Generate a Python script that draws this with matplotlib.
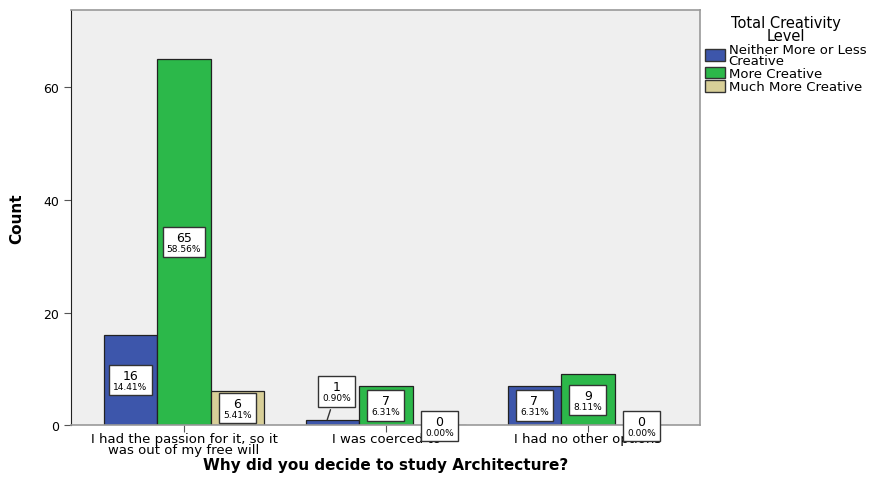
import numpy as np
import matplotlib.pyplot as plt
from matplotlib.offsetbox import TextArea, VPacker, AnnotationBbox
from matplotlib.patches import Patch

# Data
categories = ['I had the passion for it, so it\nwas out of my free will',
              'I was coerced to', 'I had no other options']
levels = ['Neither More or Less\nCreative', 'More Creative', 'Much More Creative']
counts = {
    'Neither More or Less\nCreative': [16, 1, 7],
    'More Creative': [65, 7, 9],
    'Much More Creative': [6, 0, 0],
}
percents = {
    'Neither More or Less\nCreative': ['14.41%', '0.90%', '6.31%'],
    'More Creative': ['58.56%', '6.31%', '8.11%'],
    'Much More Creative': ['5.41%', '0.00%', '0.00%'],
}
colors = ['#3D56AB', '#2CB84A', '#D8CF98']

plt.rcParams['font.family'] = 'DejaVu Sans'

fig = plt.figure(figsize=(8.75, 4.81), dpi=100)
ax = fig.add_axes([0.081, 0.114, 0.719, 0.863])
ax.set_facecolor('#EFEFEF')

x = np.arange(len(categories))
width = 0.265

for i, lvl in enumerate(levels):
    pos = x + (i - 1) * width
    ax.bar(pos, counts[lvl], width, color=colors[i], edgecolor='#222222', linewidth=0.9)
    for j in range(len(categories)):
        v = counts[lvl][j]
        p = percents[lvl][j]
        box = VPacker(children=[TextArea(str(v), textprops=dict(size=9)),
                                TextArea(p, textprops=dict(size=6.5))],
                      align='center', pad=0, sep=0)
        bprops = dict(boxstyle='square,pad=0.3', fc='white', ec='#333333', lw=1)
        if v >= 5:
            ab = AnnotationBbox(box, (pos[j], v / 2), frameon=True, bboxprops=bprops,
                                box_alignment=(0.5, 0.5))
        elif v == 0:
            ab = AnnotationBbox(box, (pos[j], 0), frameon=True, bboxprops=bprops,
                                box_alignment=(0.5, 0.55))
        else:
            ab = AnnotationBbox(box, (pos[j] - 0.03, v / 2), xybox=(pos[j] + 0.02, 6.0),
                                xycoords='data', boxcoords='data', frameon=True,
                                bboxprops=bprops, box_alignment=(0.5, 0.5),
                                arrowprops=dict(arrowstyle='-', color='#333333', lw=1))
        ax.add_artist(ab)

ax.set_xlim(-0.56, 2.555)
ax.set_ylim(0, 73.7)
ax.set_yticks([0, 20, 40, 60])
ax.set_xticks(x)
ax.set_xticklabels(categories, fontsize=9.5, linespacing=0.8)
ax.tick_params(axis='y', labelsize=9, length=5, color='#555555')
ax.tick_params(axis='x', length=5, color='#555555', pad=0)
for s in ['top', 'right', 'bottom']:
    ax.spines[s].set_color('#999999')
    ax.spines[s].set_linewidth(1.2)
ax.spines['left'].set_color('#222222')

ax.set_ylabel('Count', fontsize=11, fontweight='bold', labelpad=14)
ax.set_xlabel('Why did you decide to study Architecture?', fontsize=11,
              fontweight='bold', labelpad=1)

handles = [Patch(facecolor=colors[i], edgecolor='#333333', label=levels[i])
           for i in range(len(levels))]
leg = fig.legend(handles=handles, title='Total Creativity\nLevel', loc='upper left',
                 bbox_to_anchor=(0.795, 0.985), frameon=False, fontsize=9.5,
                 title_fontsize=10.5, handlelength=1.5, handleheight=1.0,
                 handletextpad=0.3, labelspacing=0.0, borderpad=0.2)
leg.get_title().set_multialignment('center')
leg.get_title().set_linespacing(0.8)
for t in leg.get_texts():
    t.set_linespacing(0.75)

fig.savefig('out.png', dpi=100)
